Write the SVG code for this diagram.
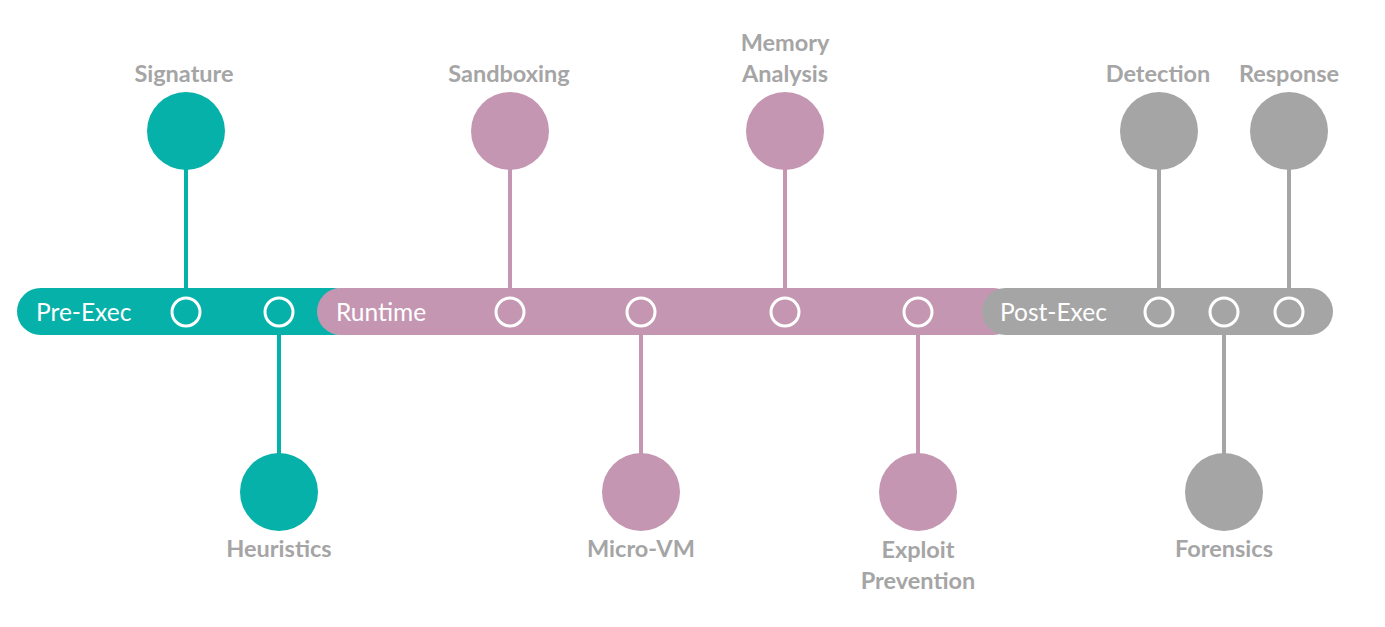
<svg xmlns="http://www.w3.org/2000/svg" width="1385" height="627" viewBox="0 0 1385 627">
<style>
.lbl{font-family:Lato,"Open Sans","Liberation Sans",sans-serif;font-weight:700;font-size:23.5px;fill:#A5A5A5;text-anchor:middle}
.bar{font-family:Lato,"Open Sans","Liberation Sans",sans-serif;font-size:24.5px;fill:#FFFFFF}
.dot{fill:none;stroke:#FFFFFF;stroke-width:3}
.t{fill:#06B1A9}.p{fill:#C496B2}.g{fill:#A5A5A5}
.lt{stroke:#06B1A9;stroke-width:4}.lp{stroke:#C496B2;stroke-width:4}.lg{stroke:#A5A5A5;stroke-width:4}
</style>
<rect width="1385" height="627" fill="#FFFFFF"/>
<g id="connectors">
<line class="lt" x1="186" y1="168" x2="186" y2="296"/>
<line class="lt" x1="279" y1="327" x2="279" y2="455"/>
<line class="lp" x1="510" y1="168" x2="510" y2="296"/>
<line class="lp" x1="641" y1="327" x2="641" y2="455"/>
<line class="lp" x1="785" y1="168" x2="785" y2="296"/>
<line class="lp" x1="918" y1="327" x2="918" y2="455"/>
<line class="lg" x1="1159" y1="168" x2="1159" y2="296"/>
<line class="lg" x1="1224" y1="327" x2="1224" y2="455"/>
<line class="lg" x1="1289" y1="168" x2="1289" y2="296"/>
</g>
<g id="pre-exec">
<rect class="t" x="17" y="288" width="340" height="47" rx="23.5"/>
</g>
<g id="runtime">
<rect class="p" x="317" y="288" width="700" height="47" rx="23.5"/>
</g>
<g id="post-exec">
<rect class="g" x="982" y="288" width="351" height="47" rx="23.5"/>
</g>
<g id="bar-labels">
<text class="bar" x="36" y="321">Pre-Exec</text>
<text class="bar" x="336" y="321">Runtime</text>
<text class="bar" x="1000" y="321">Post-Exec</text>
</g>
<g id="dots">
<circle class="dot" cx="186" cy="312" r="14"/>
<circle class="dot" cx="279" cy="312" r="14"/>
<circle class="dot" cx="510" cy="312" r="14"/>
<circle class="dot" cx="641" cy="312" r="14"/>
<circle class="dot" cx="785" cy="312" r="14"/>
<circle class="dot" cx="918" cy="312" r="14"/>
<circle class="dot" cx="1159" cy="312" r="14"/>
<circle class="dot" cx="1224" cy="312" r="14"/>
<circle class="dot" cx="1289" cy="312" r="14"/>
</g>
<g id="signature"><circle class="t" cx="186" cy="131" r="39"/><text class="lbl" x="184" y="82">Signature</text></g>
<g id="heuristics"><circle class="t" cx="279" cy="492" r="39"/><text class="lbl" x="279" y="557">Heuristics</text></g>
<g id="sandboxing"><circle class="p" cx="510" cy="131" r="39"/><text class="lbl" x="509" y="82">Sandboxing</text></g>
<g id="micro-vm"><circle class="p" cx="641" cy="492" r="39"/><text class="lbl" x="641" y="557">Micro-VM</text></g>
<g id="memory-analysis"><circle class="p" cx="785" cy="131" r="39"/><text class="lbl" x="785" y="51">Memory</text><text class="lbl" x="785" y="82">Analysis</text></g>
<g id="exploit-prevention"><circle class="p" cx="918" cy="492" r="39"/><text class="lbl" x="918" y="558">Exploit</text><text class="lbl" x="918" y="589">Prevention</text></g>
<g id="detection"><circle class="g" cx="1159" cy="131" r="39"/><text class="lbl" x="1158" y="82">Detection</text></g>
<g id="response"><circle class="g" cx="1289" cy="131" r="39"/><text class="lbl" x="1289" y="82">Response</text></g>
<g id="forensics"><circle class="g" cx="1224" cy="492" r="39"/><text class="lbl" x="1224" y="557">Forensics</text></g>
</svg>
